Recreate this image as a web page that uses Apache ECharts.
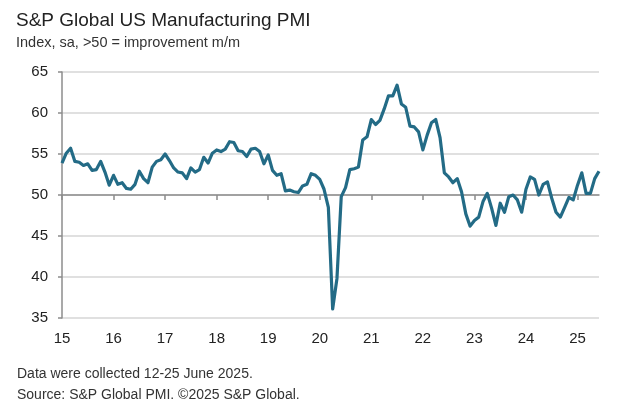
<!DOCTYPE html>
<html><head><meta charset="utf-8">
<script src="https://cdn.jsdelivr.net/npm/echarts@6/dist/echarts.min.js"></script>
<style>html,body{margin:0;padding:0;background:#fff}#c{width:624px;height:417px}</style>
</head><body><div id="c"></div>
<script>
const yearLabels = ["15","16","17","18","19","20","21","22","23","24","25"];
const months = [];
for (let y = 2015; y <= 2025; y++) for (let m = 1; m <= 12; m++) { if (y === 2025 && m > 6) break; months.push(y + "-" + (m < 10 ? "0" + m : m)); }
const pmi2015 = [53.9,55.1,55.7,54.1,54.0,53.6,53.8,53.0,53.1,54.1,52.8,51.2];
const pmi2016 = [52.4,51.3,51.5,50.8,50.7,51.3,52.9,52.0,51.5,53.4,54.1,54.3];
const pmi2017 = [55.0,54.2,53.3,52.8,52.7,52.0,53.3,52.8,53.1,54.6,53.9,55.1];
const pmi2018 = [55.5,55.3,55.6,56.5,56.4,55.4,55.3,54.7,55.6,55.7,55.3,53.8];
const pmi2019 = [54.9,53.0,52.4,52.6,50.5,50.6,50.4,50.3,51.1,51.3,52.6,52.4];
const pmi2020 = [51.9,50.7,48.5,36.1,39.8,49.8,50.9,53.1,53.2,53.4,56.7,57.1];
const pmi2021 = [59.2,58.6,59.1,60.5,62.1,62.1,63.4,61.1,60.7,58.4,58.3,57.7];
const pmi2022 = [55.5,57.3,58.8,59.2,57.0,52.7,52.2,51.5,52.0,50.4,47.7,46.2];
const pmi2023 = [46.9,47.3,49.2,50.2,48.4,46.3,49.0,47.9,49.8,50.0,49.4,47.9];
const pmi2024 = [50.7,52.2,51.9,50.0,51.3,51.6,49.6,47.9,47.3,48.5,49.7,49.4];
const pmi2025 = [51.2,52.7,50.2,50.2,52.0,52.9];
const pmi = [].concat(pmi2015,pmi2016,pmi2017,pmi2018,pmi2019,pmi2020,pmi2021,pmi2022,pmi2023,pmi2024,pmi2025);

const chart = echarts.init(document.getElementById('c'));
const F = "'Liberation Sans', Arial, sans-serif";
chart.setOption({
  animation: false,
  backgroundColor: '#fff',
  title: {
    text: 'S&P Global US Manufacturing PMI',
    subtext: 'Index, sa, >50 = improvement m/m',
    left: 11, top: 6, itemGap: 5,
    textStyle: { fontFamily: F, fontSize: 19, fontWeight: 'normal', color: '#222' },
    subtextStyle: { fontFamily: F, fontSize: 14.5, color: '#333' }
  },
  graphic: [
    { type: 'text', left: 17, top: 367, style: { text: 'Data were collected 12-25 June 2025.', font: "14px 'Liberation Sans', Arial, sans-serif", fill: '#333' } },
    { type: 'text', left: 17, top: 388, style: { text: 'Source: S&P Global PMI. ©2025 S&P Global.', font: "14px 'Liberation Sans', Arial, sans-serif", fill: '#333' } }
  ],
  grid: [
    { left: 62, right: 25, top: 72, bottom: 99 },
    { left: 62, right: 25, top: 72, height: 123 }
  ],
  xAxis: [
    { type: 'category', gridIndex: 0, data: months, boundaryGap: false,
      axisLine: { show: false }, axisTick: { show: false },
      axisLabel: { interval: 11, margin: 13, fontFamily: F, fontSize: 15, color: '#222',
        formatter: (v, i) => yearLabels[Math.floor(i / 12)] } },
    { type: 'category', gridIndex: 1, data: months, boundaryGap: false,
      axisLine: { show: true, lineStyle: { color: '#8c8c8c', width: 1.5 } },
      axisTick: { show: true, interval: 11, length: 5, lineStyle: { color: '#8c8c8c', width: 1.5 } },
      axisLabel: { show: false } }
  ],
  yAxis: [
    { type: 'value', gridIndex: 0, min: 35, max: 65, interval: 5,
      axisLine: { show: true, lineStyle: { color: '#8c8c8c', width: 1.5 } },
      axisTick: { show: true, length: 4, lineStyle: { color: '#8c8c8c', width: 1.5 } },
      axisLabel: { margin: 14, fontFamily: F, fontSize: 15, color: '#222' },
      splitLine: { lineStyle: { color: '#d6d6d6', width: 1.5 } } },
    { type: 'value', gridIndex: 1, show: false }
  ],
  series: [{
    type: 'line', xAxisIndex: 0, yAxisIndex: 0, data: pmi,
    showSymbol: false, symbol: 'none',
    lineStyle: { color: '#236b86', width: 3.2, join: 'round' }
  }]
});
</script></body></html>
